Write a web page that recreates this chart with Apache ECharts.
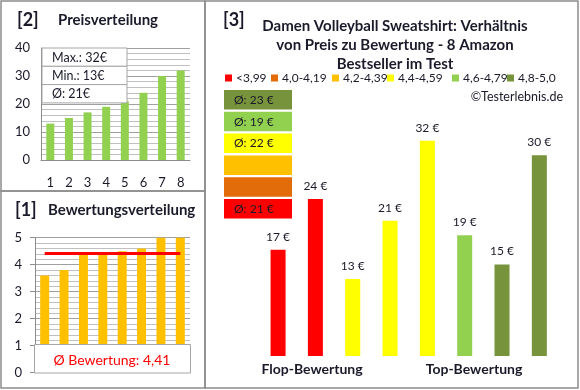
<!DOCTYPE html>
<html><head><meta charset="utf-8">
<script src="https://cdn.jsdelivr.net/npm/echarts@6/dist/echarts.min.js"></script>
<style>html,body{margin:0;padding:0;background:#fff}#c{width:580px;height:390px}</style>
</head><body><div id="c"></div>
<script>
const priceCats = ['1','2','3','4','5','6','7','8'];
const priceValues = [13,15,17,19,21,24,30,32];
const statsLabels = ['Max.: 32€','Min.: 13€','Ø: 21€'];
const ratingCats = ['1','2','3','4','5','6','7','8'];
const ratingValues = [3.6,3.8,4.4,4.4,4.5,4.6,5.0,5.0];
const avgRating = 4.41;
const avgRatingLabel = 'Ø Bewertung: 4,41';
const compareCats = ['1','2','3','4','5','6','7','8'];
const comparePrices = [17,24,13,21,32,19,15,30];
const compareRatings = [3.6,3.8,4.4,4.4,4.5,4.6,5.0,5.0];
const bandLabels = ['<3,99','4,0-4,19','4,2-4,39','4,4-4,59','4,6-4,79','4,8-5,0'];
const bandLimits = [4.0,4.2,4.4,4.6,4.8,99];
const bandColors = ['#FF0000','#E26B0A','#FFC000','#FFFF00','#92D050','#77933C'];
const bandAvgLabels = ['Ø: 21 €','','','Ø: 22 €','Ø: 19 €','Ø: 23 €'];
const titleLines = ['Damen Volleyball Sweatshirt: Verhältnis','von Preis zu Bewertung - 8 Amazon','Bestseller im Test'];

const FONT = 'Lato, "Open Sans", sans-serif';
const TXT = '#1a1a2a';
function band(r){ for (let i=0;i<bandLimits.length;i++){ if (r < bandLimits[i] - 1e-9) return i; } return 5; }

const chart = echarts.init(document.getElementById('c'), null, {renderer:'canvas'});
const g = [];
const bc = '#8c8c8c';
g.push({type:'rect', shape:{x:1,y:1,width:204,height:190}, style:{fill:'none',stroke:bc,lineWidth:1.5}, z:50});
g.push({type:'rect', shape:{x:1,y:191,width:204,height:197}, style:{fill:'none',stroke:bc,lineWidth:1.5}, z:50});
g.push({type:'rect', shape:{x:205,y:1,width:373,height:387}, style:{fill:'none',stroke:bc,lineWidth:1.5}, z:50});
g.push({type:'text', x:17, y:20, style:{text:'[2]', font:'bold 18px '+FONT, fill:TXT, textVerticalAlign:'middle'}, z:50});
g.push({type:'text', x:58, y:20, style:{text:'Preisverteilung', font:'bold 15px '+FONT, fill:TXT, textVerticalAlign:'middle'}, z:50});
g.push({type:'text', x:15, y:210, style:{text:'[1]', font:'bold 18px '+FONT, fill:TXT, textVerticalAlign:'middle'}, z:50});
g.push({type:'text', x:48, y:210, style:{text:'Bewertungsverteilung', font:'bold 15px '+FONT, fill:TXT, textVerticalAlign:'middle'}, z:50});
g.push({type:'text', x:223, y:20, style:{text:'[3]', font:'bold 18px '+FONT, fill:TXT, textVerticalAlign:'middle'}, z:50});
titleLines.forEach((t,i)=>{
  g.push({type:'text', x:395, y:26+i*19, style:{text:t, font:'bold 15px '+FONT, fill:TXT, textAlign:'center', textVerticalAlign:'middle'}, z:50});
});
statsLabels.forEach((t,i)=>{
  g.push({type:'rect', shape:{x:42,y:48+i*18.3,width:85,height:18.3}, style:{fill:'#fff',stroke:'#a6a6a6',lineWidth:1}, z:60});
  g.push({type:'text', x:52, y:57.5+i*18.3, style:{text:t, font:'12.5px '+FONT, fill:TXT, textVerticalAlign:'middle'}, z:61});
});
g.push({type:'rect', shape:{x:34.5,y:344.5,width:156,height:28.5}, style:{fill:'#fff',stroke:'#a6a6a6',lineWidth:1}, z:60});
g.push({type:'text', x:112, y:360, style:{text:avgRatingLabel, font:'14px '+FONT, fill:'#FF0000', textAlign:'center', textVerticalAlign:'middle'}, z:61});
const legX = [225,271,332,387,452,507];
bandLabels.forEach((t,i)=>{
  g.push({type:'rect', shape:{x:legX[i],y:74.5,width:7,height:7}, style:{fill:bandColors[i]}, z:50});
  g.push({type:'text', x:legX[i]+11, y:78.5, style:{text:t, font:'12px '+FONT, fill:TXT, textVerticalAlign:'middle'}, z:50});
});
g.push({type:'text', x:563, y:97, style:{text:'©Testerlebnis.de', font:'12.5px '+FONT, fill:TXT, textAlign:'right', textVerticalAlign:'middle'}, z:50});
for (let k=0;k<6;k++){
  const b = 5-k;
  const y = 90 + k*21.8;
  g.push({type:'rect', shape:{x:224,y:y,width:68,height:19.5}, style:{fill:bandColors[b]}, z:50});
  if (bandAvgLabels[b]) g.push({type:'text', x:234, y:y+10, style:{text:bandAvgLabels[b], font:'12px '+FONT, fill:TXT, textVerticalAlign:'middle'}, z:51});
}
g.push({type:'text', x:312, y:369, style:{text:'Flop-Bewertung', font:'bold 14px '+FONT, fill:TXT, textAlign:'center', textVerticalAlign:'middle'}, z:50});
g.push({type:'text', x:474, y:369, style:{text:'Top-Bewertung', font:'bold 14px '+FONT, fill:TXT, textAlign:'center', textVerticalAlign:'middle'}, z:50});

const axisLbl = {color:TXT, fontFamily:FONT, fontSize:13};
const option = {
  animation:false,
  backgroundColor:'#fff',
  grid:[
    {left:41, right:390, top:48, bottom:230},
    {left:35, right:390, top:237.7, bottom:17.3},
    {left:259.4, right:22, top:119, bottom:34}
  ],
  xAxis:[
    {gridIndex:0, type:'category', data:priceCats, axisLine:{lineStyle:{color:'#8c8c8c'}}, axisTick:{show:false}, axisLabel:Object.assign({margin:16},axisLbl)},
    {gridIndex:1, type:'category', data:ratingCats, axisLine:{show:false}, axisTick:{show:false}, axisLabel:{show:false}},
    {gridIndex:2, type:'category', data:compareCats, show:false}
  ],
  yAxis:[
    {gridIndex:0, type:'value', min:0, max:40, interval:10, axisLine:{show:true,lineStyle:{color:'#8c8c8c'}}, axisTick:{show:false},
     axisLabel:Object.assign({margin:11},axisLbl), splitLine:{lineStyle:{color:'#a0a0a0'}},
     minorTick:{show:false, splitNumber:5}, minorSplitLine:{show:true, lineStyle:{color:'#c0c0c0'}}},
    {gridIndex:1, type:'value', min:0, max:5, interval:1, axisLine:{show:true,lineStyle:{color:'#8c8c8c'}}, axisTick:{show:true,length:5,lineStyle:{color:'#8c8c8c'}},
     axisLabel:Object.assign({margin:13},axisLbl), splitLine:{lineStyle:{color:'#a0a0a0'}},
     minorTick:{show:false, splitNumber:5}, minorSplitLine:{show:true, lineStyle:{color:'#c0c0c0'}}},
    {gridIndex:2, type:'value', min:2.4, max:35, show:false, splitLine:{show:false}}
  ],
  series:[
    {type:'bar', xAxisIndex:0, yAxisIndex:0, data:priceValues, barWidth:8, itemStyle:{color:'#92D050'}},
    {type:'bar', xAxisIndex:1, yAxisIndex:1, data:ratingValues, barWidth:9, itemStyle:{color:'#FFC000'},
     markLine:{silent:true, symbol:'none', label:{show:false}, lineStyle:{color:'#FF0000', width:3, type:'solid'},
       data:[[{coord:[0,avgRating]},{coord:[ratingCats.length-1,avgRating]}]]}},
    {type:'bar', xAxisIndex:2, yAxisIndex:2, barWidth:15,
     data:comparePrices.map((v,i)=>({value:v, itemStyle:{color:bandColors[band(compareRatings[i])]}})),
     label:{show:true, position:'top', distance:7, formatter:'{c} €', color:TXT, fontFamily:FONT, fontSize:12}}
  ],
  graphic:g
};
chart.setOption(option);
</script></body></html>
